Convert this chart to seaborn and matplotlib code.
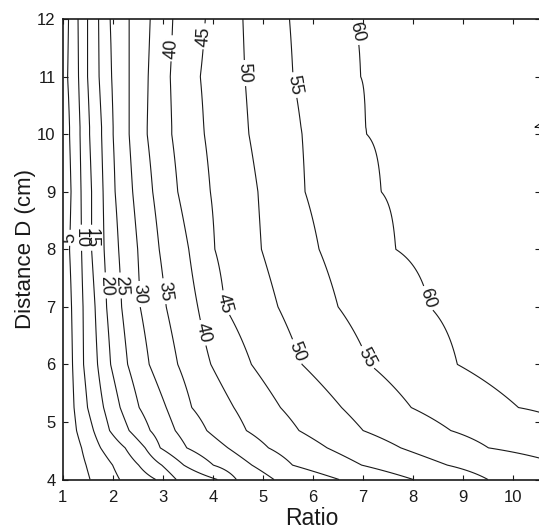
import numpy as np
import matplotlib
matplotlib.use('Agg')
import matplotlib.pyplot as plt
import seaborn as sns

sns.set_theme(style='ticks')
plt.rcParams['font.family'] = ['Liberation Sans', 'DejaVu Sans']

#contour levels shown in the chart (65 only touches the right border)
levels = [5, 10, 15, 20, 25, 30, 35, 40, 45, 50, 55, 60, 65]
#distance D rows (cm) where the crossings were read
rows_y = [4.0, 4.25, 4.55, 4.85, 5.25, 6.0, 7.0, 8.0, 9.0, 10.0, 10.12, 11.0, 12.0]
nan = np.nan
#ratio where each contour crosses each row (nan = off the chart)
c05 = [1.55, 1.47, 1.38, 1.28, 1.23, 1.20, 1.18, 1.14, 1.17, 1.14, 1.14, 1.10, 1.12]
c10 = [2.14, 2.00, 1.76, 1.62, 1.50, 1.42, 1.41, 1.38, 1.37, 1.35, 1.35, 1.32, 1.31]
c15 = [2.86, 2.52, 2.25, 1.94, 1.82, 1.70, 1.65, 1.58, 1.58, 1.54, 1.54, 1.50, 1.50]
c20 = [3.27, 2.98, 2.65, 2.33, 2.15, 1.96, 1.88, 1.83, 1.81, 1.78, 1.78, 1.73, 1.72]
c25 = [4.09, 3.42, 2.95, 2.75, 2.53, 2.30, 2.18, 2.12, 2.05, 2.01, 2.01, 1.98, 1.95]
c30 = [4.47, 4.01, 3.48, 3.25, 3.07, 2.73, 2.55, 2.50, 2.40, 2.33, 2.33, 2.33, 2.33]
c35 = [5.22, 4.78, 4.30, 3.88, 3.58, 3.30, 3.07, 2.93, 2.80, 2.69, 2.69, 2.71, 2.75]
c40 = [6.52, 5.59, 5.11, 4.67, 4.42, 3.96, 3.70, 3.52, 3.30, 3.18, 3.18, 3.15, 3.20]
c45 = [8.00, 6.97, 6.28, 5.72, 5.35, 4.77, 4.24, 4.04, 3.95, 3.83, 3.82, 3.75, 3.85]
c50 = [9.49, 8.68, 7.75, 7.00, 6.57, 5.78, 5.30, 4.97, 4.90, 4.72, 4.71, 4.64, 4.60]
c55 = [nan, nan, 9.50, 8.75, 7.96, 7.13, 6.50, 6.12, 5.84, 5.78, 5.76, 5.60, 5.53]
c60 = [nan, nan, nan, nan, 10.10, 8.88, 8.33, 7.65, 7.36, 7.07, 7.05, 6.95, 6.78]
c65 = [nan] * 13
#value at the left / right border of each row
z_left = [0] * 13
z_right = [52, 54, 56.5, 58.5, 60.4, 63, 63, 63, 63, 63, 65.15, 63, 63]

xmin, xmax = 1.0, 10.53
crossings = np.array([c05, c10, c15, c20, c25, c30, c35, c40, c45, c50, c55, c60, c65])
xg = np.linspace(xmin, xmax, 800)
Z = []
for i in range(len(rows_y)):
    ok = ~np.isnan(crossings[:, i])
    xp = np.concatenate([[xmin], crossings[ok, i], [xmax]])
    fp = np.concatenate([[z_left[i]], np.array(levels)[ok], [z_right[i]]])
    Z.append(np.interp(xg, xp, fp))
Z = np.array(Z)

#where the labels sit (nearest contour gets the label)
label_pos = [(1.11, 8.2), (1.36, 8.2), (1.58, 8.2),
             (1.83, 7.37), (2.15, 7.37), (2.50, 7.22), (3.02, 7.27),
             (3.76, 6.54), (3.20, 11.49), (4.21, 7.06), (3.81, 11.7),
             (5.64, 6.21), (4.62, 11.06), (7.04, 6.10), (5.62, 10.85),
             (8.14, 7.11), (6.80, 11.76)]

W, H = 539, 528
fig = plt.figure(figsize=(W / 100, H / 100), dpi=100)
ax = fig.add_axes([62.5 / W, (H - 479.5) / H, 477.5 / W, 460.5 / H])
cs = ax.contour(xg, rows_y, Z, levels=levels, colors='k', linewidths=0.8)
ax.clabel(cs, levels=levels[:-1], manual=label_pos, inline=True,
          inline_spacing=3, fontsize=13, fmt='%d')

ax.set_xlim(xmin, xmax)
ax.set_ylim(4, 12)
ax.set_xticks(range(1, 11))
ax.set_yticks(range(4, 13))
ax.tick_params(direction='in', length=3.6, width=0.8, top=True, right=True,
               labelsize=12, color='k', labelcolor='k')
ax.tick_params(axis='x', pad=7.2)
ax.tick_params(axis='y', pad=5)
for s in ax.spines.values():
    s.set_linewidth(1.2)
    s.set_color('k')
ax.set_xlabel('Ratio', fontsize=16.5, color='k')
ax.set_ylabel('Distance D (cm)', fontsize=16, color='k')
ax.xaxis.set_label_coords((311.7 - 62.5) / 477.5, (479.5 - 507) / 460.5)
ax.yaxis.set_label_coords((35.5 - 62.5) / 477.5, 0.5)

fig.savefig('out.png', dpi=100)
